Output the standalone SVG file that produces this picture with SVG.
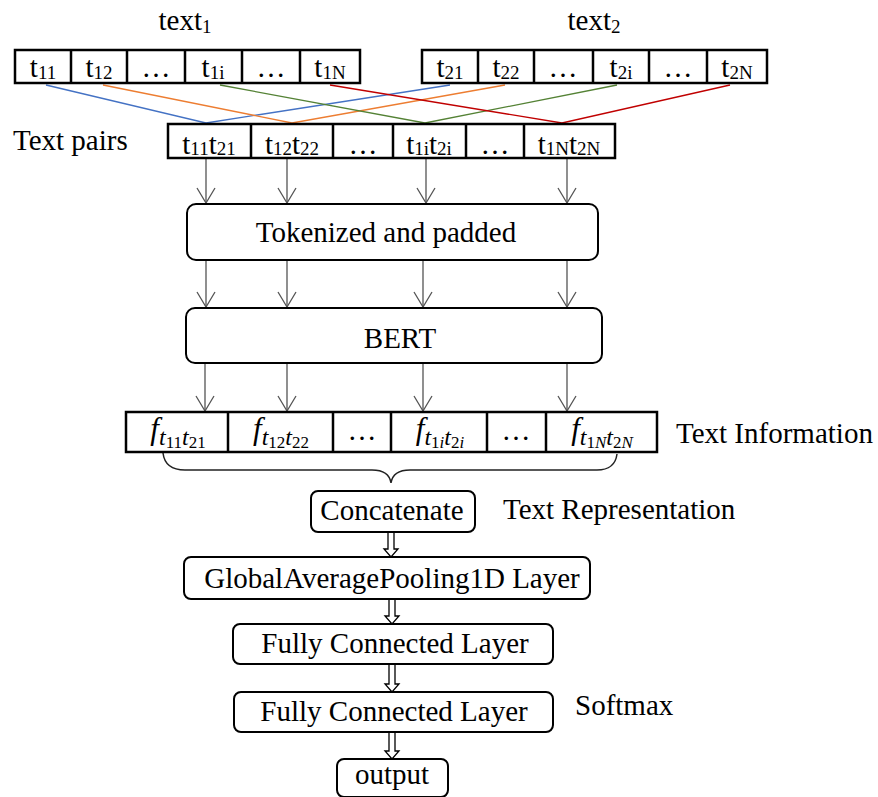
<svg xmlns="http://www.w3.org/2000/svg" width="878" height="797" viewBox="0 0 878 797">
<defs>
<style>
text{font-family:"Liberation Serif","Times New Roman",serif;fill:#000;}
.t{font-size:29px;}
.m{font-size:29px;text-anchor:middle;}
.s{font-size:19px;}
.cell{fill:#fff;stroke:#000;stroke-width:2.5;}
.rbox{fill:#fff;stroke:#000;stroke-width:2;}
.gray{stroke:#555;stroke-width:1.3;fill:none;}
.hol{fill:#fff;stroke:#000;stroke-width:1.3;}
.fi{font-style:italic;text-anchor:middle;font-size:31px;}
.ft{font-size:24px;}
.fd{font-size:17px;}
.up{font-style:normal;}
</style>
</defs>
<rect width="878" height="797" fill="#fff"/>

<g id="labels">
<text class="t" x="185" y="30" text-anchor="middle">text<tspan class="s" dy="3">1</tspan></text>
<text class="t" x="594" y="30" text-anchor="middle">text<tspan class="s" dy="3">2</tspan></text>
<text class="t" x="13" y="150">Text pairs</text>
<text class="t" x="676" y="443">Text Information</text>
<text class="t" x="503" y="519">Text Representation</text>
<text class="t" x="575" y="715">Softmax</text>
</g>

<g id="connectors">
<g fill="none" stroke-width="1.3">
<polyline points="46,85 206,123 450,85" stroke="#4472C4"/>
<polyline points="103,85 292,123 505,85" stroke="#ED7D31"/>
<polyline points="220,85 425,123 617,85" stroke="#548235"/>
<polyline points="330,85 562,123 730,85" stroke="#C00000"/>
</g>
<g class="gray">
<path d="M206,158 V203 M287,158 V203 M426,158 V203 M567,158 V203" />
<path d="M206,260 V307 M287,260 V307 M423,260 V307 M567,260 V307" />
<path d="M205,363 V411 M287,363 V411 M423,363 V411 M567,363 V411" />
<path d="M197,188 L206,203 L215,188 M278,188 L287,203 L296,188 M417,188 L426,203 L435,188 M558,188 L567,203 L576,188"/>
<path d="M197,292 L206,307 L215,292 M278,292 L287,307 L296,292 M414,292 L423,307 L432,292 M558,292 L567,307 L576,292"/>
<path d="M196,396 L205,411 L214,396 M278,396 L287,411 L296,396 M414,396 L423,411 L432,396 M558,396 L567,411 L576,396"/>
</g>
<path d="M163,453 Q165,470 185,470 L372,470 Q389,470 391,483 Q393,470 410,470 L597,470 Q615,470 617,454" fill="none" stroke="#222" stroke-width="1.5"/>
<path class="hol" d="M388,532 V549 H384 L391,557 L398,549 H394 V532"/>
<path class="hol" d="M389,599 V616 H385 L392,624 L399,616 H395 V599"/>
<path class="hol" d="M389,664 V684 H385 L392,692 L399,684 H395 V664"/>
<path class="hol" d="M389,732 V751 H385 L392,759 L399,751 H395 V732"/>
</g>

<g id="text1">
<rect class="cell" x="15" y="50" width="345" height="33"/>
<path class="cell" d="M71,50 V83 M127,50 V83 M185,50 V83 M242,50 V83 M300,50 V83"/>
<text class="m" x="43" y="77">t<tspan class="s" dy="2">11</tspan></text>
<text class="m" x="99" y="77">t<tspan class="s" dy="2">12</tspan></text>
<text class="m" x="156" y="77">…</text>
<text class="m" x="213" y="77">t<tspan class="s" dy="2">1i</tspan></text>
<text class="m" x="271" y="77">…</text>
<text class="m" x="330" y="77">t<tspan class="s" dy="2">1N</tspan></text>
</g>

<g id="text2">
<rect class="cell" x="422" y="50" width="345" height="33"/>
<path class="cell" d="M478,50 V83 M534,50 V83 M593,50 V83 M649,50 V83 M707,50 V83"/>
<text class="m" x="450" y="77">t<tspan class="s" dy="2">21</tspan></text>
<text class="m" x="506" y="77">t<tspan class="s" dy="2">22</tspan></text>
<text class="m" x="563" y="77">…</text>
<text class="m" x="621" y="77">t<tspan class="s" dy="2">2i</tspan></text>
<text class="m" x="678" y="77">…</text>
<text class="m" x="737" y="77">t<tspan class="s" dy="2">2N</tspan></text>
</g>

<g id="pairs">
<rect class="cell" x="168" y="124" width="447" height="34"/>
<path class="cell" d="M251,124 V158 M333,124 V158 M393,124 V158 M466,124 V158 M524,124 V158"/>
<text class="m" x="209" y="154">t<tspan class="s" dy="1">11</tspan><tspan dy="-1">t</tspan><tspan class="s" dy="1">21</tspan></text>
<text class="m" x="292" y="154">t<tspan class="s" dy="1">12</tspan><tspan dy="-1">t</tspan><tspan class="s" dy="1">22</tspan></text>
<text class="m" x="363" y="154">…</text>
<text class="m" x="429" y="154">t<tspan class="s" dy="1">1i</tspan><tspan dy="-1">t</tspan><tspan class="s" dy="1">2i</tspan></text>
<text class="m" x="495" y="154">…</text>
<text class="m" x="569" y="154">t<tspan class="s" dy="1">1N</tspan><tspan dy="-1">t</tspan><tspan class="s" dy="1">2N</tspan></text>
</g>

<g id="tokenized">
<rect class="rbox" x="187" y="204" width="411" height="56" rx="9"/>
<text class="m" x="386" y="242">Tokenized and padded</text>
</g>

<g id="bert">
<rect class="rbox" x="186" y="308" width="416" height="55" rx="9"/>
<text class="m" x="400" y="348">BERT</text>
</g>

<g id="features">
<rect class="cell" x="126" y="412" width="531" height="40"/>
<path class="cell" d="M228,412 V452 M333,412 V452 M391,412 V452 M487,412 V452 M546,412 V452"/>
<text class="fi" x="178" y="439">f<tspan class="ft" dy="6">t</tspan><tspan class="fd up" dy="3">11</tspan><tspan class="ft" dy="-3">t</tspan><tspan class="fd up" dy="3">21</tspan></text>
<text class="fi" x="281" y="439">f<tspan class="ft" dy="6">t</tspan><tspan class="fd up" dy="3">12</tspan><tspan class="ft" dy="-3">t</tspan><tspan class="fd up" dy="3">22</tspan></text>
<text class="m" x="362" y="440">…</text>
<text class="fi" x="440" y="439">f<tspan class="ft" dy="6">t</tspan><tspan class="fd" dy="3"><tspan class="up">1</tspan>i</tspan><tspan class="ft" dy="-3">t</tspan><tspan class="fd" dy="3"><tspan class="up">2</tspan>i</tspan></text>
<text class="m" x="516" y="440">…</text>
<text class="fi" x="602" y="439">f<tspan class="ft" dy="6">t</tspan><tspan class="fd" dy="3"><tspan class="up">1</tspan>N</tspan><tspan class="ft" dy="-3">t</tspan><tspan class="fd" dy="3"><tspan class="up">2</tspan>N</tspan></text>
</g>

<g id="concatenate">
<rect class="rbox" x="311" y="491" width="164" height="41" rx="7"/>
<text class="m" x="392" y="520">Concatenate</text>
</g>

<g id="gap">
<rect class="rbox" x="184" y="557" width="406" height="42" rx="7"/>
<text class="m" x="392" y="588">GlobalAveragePooling1D Layer</text>
</g>

<g id="fc1">
<rect class="rbox" x="233" y="624" width="320" height="40" rx="7"/>
<text class="m" x="395" y="653">Fully Connected Layer</text>
</g>

<g id="fc2">
<rect class="rbox" x="234" y="692" width="319" height="40" rx="7"/>
<text class="m" x="394" y="721">Fully Connected Layer</text>
</g>

<g id="output">
<rect class="rbox" x="337" y="759" width="111" height="38" rx="7"/>
<text class="m" x="392" y="784">output</text>
</g>
</svg>
